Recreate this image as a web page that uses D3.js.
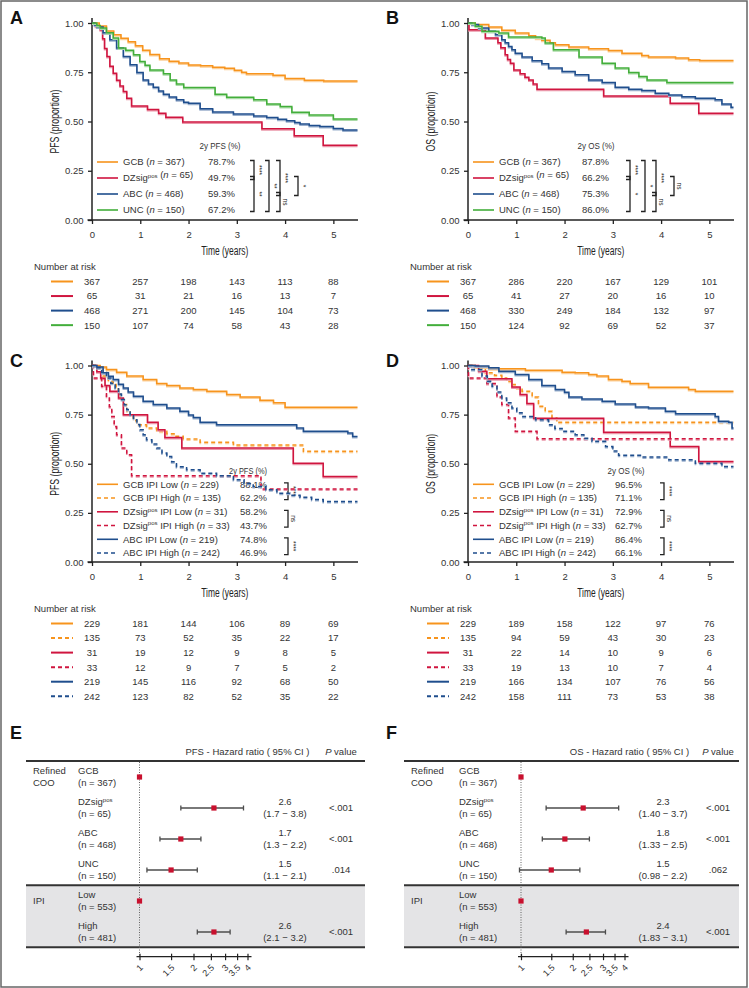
<!DOCTYPE html>
<html><head><meta charset="utf-8">
<script src="https://cdn.jsdelivr.net/npm/d3@7"></script>
<style>
body{margin:0;background:#fff;}
svg text{font-family:"Liberation Sans",Arial,Helvetica,sans-serif;white-space:pre;}
</style></head><body>
<script>
// ---------- shared ticks ----------
const years=[0,1,2,3,4,5];
const yTickVals=[0,0.25,0.5,0.75,1];
const forestTicks=[1,1.5,2,2.5,3,3.5,4];

// ---------- groups / legend ----------
const cooGroups=["GCB","DZsig^pos","ABC","UNC"];
const cooN=[367,65,468,150];
const pfs2yCOO=["78.7%","49.7%","59.3%","67.2%"];
const os2yCOO=["87.8%","66.2%","75.3%","86.0%"];
const ipiGroups=["GCB IPI Low","GCB IPI High","DZsig^pos IPI Low","DZsig^pos IPI High","ABC IPI Low","ABC IPI High"];
const ipiN=[229,135,31,33,219,242];
const pfs2yIPI=["88.1%","62.2%","58.2%","43.7%","74.8%","46.9%"];
const os2yIPI=["96.5%","71.1%","72.9%","62.7%","86.4%","66.1%"];

// ---------- significance brackets [rowA,rowB,label,column] ----------
const bracketsA=[[0,1,"****",0],[1,3,"**",0],[0,3,"**",1],[0,2,"****",2],[2,3,"ns",2],[1,2,"*",3]];
const bracketsB=[[0,1,"****",0],[1,3,"*",0],[0,3,"*",1],[0,2,"****",2],[2,3,"ns",2],[1,2,"ns",3]];
const bracketsC=[[0,1,"****",0],[2,3,"ns",0],[4,5,"****",0]];
const bracketsD=[[0,1,"****",0],[2,3,"ns",0],[4,5,"****",0]];

// ---------- number at risk ----------
const riskA=[[367,257,198,143,113,88],[65,31,21,16,13,7],[468,271,200,145,104,73],[150,107,74,58,43,28]];
const riskB=[[367,286,220,167,129,101],[65,41,27,20,16,10],[468,330,249,184,132,97],[150,124,92,69,52,37]];
const riskC=[[229,181,144,106,89,69],[135,73,52,35,22,17],[31,19,12,9,8,5],[33,12,9,7,5,2],[219,145,116,92,68,50],[242,123,82,52,35,22]];
const riskD=[[229,189,158,122,97,76],[135,94,59,43,30,23],[31,22,14,10,9,6],[33,19,13,10,7,4],[219,166,134,107,76,56],[242,158,111,73,53,38]];

// ---------- KM curves [time, survival] ----------
const A_GCB=[[0,1],[0.15,0.985],[0.3,0.96],[0.45,0.94],[0.6,0.922],[0.75,0.905],[0.9,0.885],[1.05,0.862],[1.2,0.84],[1.4,0.818],[1.6,0.806],[1.8,0.797],[2.0,0.787],[2.25,0.783],[2.5,0.776],[2.75,0.77],[2.95,0.76],[3.1,0.75],[3.2,0.742],[3.75,0.735],[4.0,0.718],[4.4,0.71],[4.8,0.706],[5.5,0.706]];
const A_DZ=[[0,1],[0.07,0.983],[0.17,0.966],[0.22,0.92],[0.26,0.87],[0.31,0.83],[0.37,0.78],[0.44,0.745],[0.51,0.71],[0.58,0.68],[0.65,0.652],[0.72,0.618],[0.82,0.579],[1.15,0.561],[1.38,0.542],[1.53,0.521],[1.88,0.497],[3.52,0.463],[4.19,0.428],[4.79,0.38],[5.5,0.38]];
const A_ABC=[[0,1],[0.05,0.99],[0.1,0.98],[0.23,0.95],[0.37,0.915],[0.51,0.873],[0.65,0.83],[0.79,0.788],[0.93,0.749],[1.06,0.711],[1.17,0.69],[1.27,0.674],[1.38,0.655],[1.48,0.638],[1.6,0.625],[1.75,0.61],[1.9,0.598],[2.0,0.593],[2.24,0.565],[2.5,0.548],[2.93,0.538],[3.35,0.528],[3.62,0.52],[3.85,0.512],[4.03,0.504],[4.2,0.495],[4.31,0.487],[4.5,0.48],[4.72,0.474],[5.0,0.465],[5.2,0.457],[5.5,0.457]];
const A_UNC=[[0,1],[0.1,0.987],[0.17,0.975],[0.3,0.95],[0.44,0.924],[0.55,0.873],[0.7,0.862],[0.86,0.839],[0.99,0.805],[1.1,0.785],[1.2,0.762],[1.48,0.742],[1.62,0.711],[1.75,0.69],[1.9,0.672],[2.5,0.672],[2.55,0.638],[2.79,0.623],[3.35,0.61],[3.62,0.589],[3.9,0.576],[4.14,0.547],[4.5,0.533],[5.0,0.513],[5.5,0.513]];

const B_GCB=[[0,1],[0.15,0.992],[0.43,0.98],[0.7,0.963],[0.98,0.949],[1.26,0.935],[1.4,0.922],[1.53,0.912],[1.7,0.9],[1.81,0.89],[2.09,0.878],[2.5,0.869],[2.91,0.861],[3.19,0.847],[3.6,0.835],[3.74,0.827],[4.3,0.822],[4.57,0.813],[4.8,0.81],[5.5,0.81]];
const B_DZ=[[0,1],[0.02,0.966],[0.36,0.924],[0.62,0.9],[0.68,0.875],[0.77,0.839],[0.82,0.815],[0.88,0.796],[0.95,0.762],[1.08,0.742],[1.18,0.725],[1.26,0.711],[1.35,0.69],[1.43,0.664],[2.81,0.63],[4.19,0.593],[4.78,0.542],[5.5,0.542]];
const B_ABC=[[0,1],[0.08,0.992],[0.22,0.975],[0.43,0.958],[0.57,0.94],[0.7,0.915],[0.77,0.9],[0.84,0.881],[0.91,0.864],[0.98,0.847],[1.12,0.827],[1.33,0.808],[1.53,0.793],[1.67,0.771],[1.95,0.754],[2.22,0.737],[2.5,0.711],[2.78,0.698],[3.05,0.674],[3.33,0.664],[3.6,0.657],[3.88,0.643],[4.16,0.635],[4.43,0.626],[4.71,0.618],[5.12,0.61],[5.26,0.589],[5.45,0.572],[5.5,0.572]];
const B_UNC=[[0,1],[0.15,0.983],[0.29,0.958],[0.64,0.949],[0.84,0.929],[1.53,0.924],[1.6,0.898],[1.77,0.864],[2.3,0.827],[2.78,0.796],[3.05,0.771],[3.33,0.749],[3.54,0.728],[3.71,0.711],[4.12,0.698],[5.5,0.698]];

const C_GCB_L=[[0,1],[0.17,0.993],[0.3,0.98],[0.51,0.966],[0.72,0.946],[1.06,0.929],[1.34,0.908],[1.55,0.898],[1.82,0.886],[2.1,0.878],[2.38,0.869],[2.79,0.852],[3.07,0.84],[3.48,0.823],[3.76,0.81],[4.0,0.787],[5.5,0.787]];
const C_GCB_H=[[0,1],[0.1,0.988],[0.23,0.946],[0.34,0.92],[0.44,0.903],[0.5,0.88],[0.55,0.852],[0.6,0.83],[0.65,0.801],[0.72,0.77],[0.79,0.741],[0.86,0.72],[0.93,0.699],[1.13,0.682],[1.34,0.665],[1.55,0.653],[1.7,0.64],[1.89,0.626],[2.24,0.609],[2.93,0.595],[4.38,0.563],[5.5,0.563]];
const C_DZ_L=[[0,1],[0.1,0.968],[0.18,0.935],[0.27,0.898],[0.37,0.869],[0.55,0.835],[0.65,0.75],[1.15,0.711],[1.37,0.673],[1.51,0.634],[1.86,0.58],[4.17,0.503],[4.79,0.435],[5.5,0.435]];
const C_DZ_H=[[0,1],[0.03,0.937],[0.2,0.895],[0.3,0.835],[0.36,0.79],[0.41,0.741],[0.46,0.69],[0.51,0.648],[0.61,0.58],[0.72,0.546],[0.82,0.439],[3.5,0.372],[5.5,0.372]];
const C_ABC_L=[[0,1],[0.1,0.993],[0.23,0.963],[0.34,0.945],[0.44,0.929],[0.55,0.905],[0.65,0.886],[0.75,0.865],[0.86,0.844],[1.06,0.818],[1.27,0.801],[1.55,0.784],[1.82,0.767],[2.0,0.748],[2.1,0.735],[2.24,0.711],[2.58,0.699],[4.24,0.682],[4.38,0.665],[5.3,0.656],[5.4,0.639],[5.5,0.639]];
const C_ABC_H=[[0,1],[0.1,0.988],[0.2,0.965],[0.3,0.937],[0.39,0.91],[0.48,0.886],[0.55,0.855],[0.61,0.827],[0.67,0.8],[0.72,0.776],[0.79,0.75],[0.86,0.724],[0.93,0.7],[0.99,0.673],[1.06,0.648],[1.13,0.622],[1.24,0.6],[1.34,0.58],[1.45,0.555],[1.55,0.537],[1.65,0.51],[1.75,0.485],[1.96,0.469],[2.24,0.452],[2.58,0.439],[2.93,0.418],[3.15,0.4],[3.34,0.384],[3.6,0.368],[3.83,0.35],[4.1,0.34],[4.31,0.33],[4.55,0.318],[4.79,0.308],[5.5,0.308]];

const D_GCB_L=[[0,1],[0.15,0.993],[0.43,0.983],[1.19,0.976],[1.95,0.966],[2.22,0.963],[2.5,0.954],[2.67,0.946],[2.91,0.929],[3.19,0.92],[3.36,0.908],[3.74,0.889],[4.57,0.878],[4.71,0.869],[5.5,0.869]];
const D_GCB_H=[[0,1],[0.08,0.993],[0.22,0.978],[0.36,0.963],[0.55,0.95],[0.7,0.937],[0.8,0.92],[0.91,0.903],[1.01,0.886],[1.12,0.869],[1.33,0.84],[1.46,0.793],[1.6,0.767],[1.74,0.733],[1.84,0.711],[5.5,0.711]];
const D_DZ_L=[[0,1],[0.22,0.971],[0.39,0.932],[0.91,0.891],[1.08,0.852],[1.22,0.806],[1.36,0.731],[2.81,0.66],[4.19,0.588],[4.78,0.512],[5.5,0.512]];
const D_DZ_H=[[0,1],[0.01,0.937],[0.39,0.908],[0.6,0.84],[0.7,0.801],[0.84,0.733],[0.98,0.665],[1.43,0.627],[5.5,0.627]];
const D_ABC_L=[[0,1],[0.15,0.997],[0.43,0.988],[0.64,0.971],[0.98,0.954],[1.26,0.929],[1.53,0.898],[1.81,0.878],[2.0,0.864],[2.09,0.84],[2.36,0.83],[2.78,0.818],[3.05,0.804],[3.47,0.789],[3.74,0.784],[4.09,0.767],[4.3,0.755],[5.12,0.741],[5.19,0.716],[5.4,0.711],[5.47,0.682],[5.5,0.682]];
const D_ABC_H=[[0,1],[0.08,0.98],[0.29,0.946],[0.4,0.92],[0.5,0.895],[0.6,0.865],[0.7,0.835],[0.8,0.81],[0.91,0.784],[1.01,0.76],[1.12,0.741],[1.4,0.724],[1.67,0.699],[1.8,0.68],[1.95,0.665],[2.22,0.648],[2.4,0.63],[2.57,0.614],[2.85,0.588],[3.0,0.565],[3.12,0.543],[3.6,0.534],[4.16,0.52],[4.71,0.503],[5.26,0.486],[5.5,0.486]];

// ---------- forest plots ----------
const forestRows=["GCB","DZsig^pos","ABC","UNC","Low","High"];
const forestN=[367,65,468,150,553,481];
const pfsHR=[1,2.6,1.7,1.5,1,2.6];
const pfsLo=[null,1.7,1.3,1.1,null,2.1];
const pfsHi=[null,3.8,2.2,2.1,null,3.2];
const pfsCI=["","(1.7 \u2212 3.8)","(1.3 \u2212 2.2)","(1.1 \u2212 2.1)","","(2.1 \u2212 3.2)"];
const pfsP=["","<.001","<.001",".014","","<.001"];
const osHR=[1,2.3,1.8,1.5,1,2.4];
const osLo=[null,1.40,1.33,0.98,null,1.83];
const osHi=[null,3.7,2.5,2.2,null,3.1];
const osCI=["","(1.40 \u2212 3.7)","(1.33 \u2212 2.5)","(0.98 \u2212 2.2)","","(1.83 \u2212 3.1)"];
const osP=["","<.001","<.001",".062","","<.001"];

// ---------- styling ----------
const ORANGE="#f7941d", RED="#d0153f", BLUE="#1f4e8d", GREEN="#43ae3b";
const TXT="#333";
const stylesCOO=[{c:ORANGE},{c:RED},{c:BLUE},{c:GREEN}];
const stylesIPI=[{c:ORANGE},{c:ORANGE,dash:"4,3"},{c:RED},{c:RED,dash:"4,3"},{c:BLUE},{c:BLUE,dash:"4,3"}];

const svg=d3.select("body").append("svg").attr("width",749).attr("height",988);
svg.append("rect").attr("x",1).attr("y",1).attr("width",746).attr("height",986)
  .attr("fill","#fff").attr("stroke","#666").attr("stroke-width",1.5);

function rich(t,name,n,italicN){
  const parts=name.split("^pos");
  t.append("tspan").text(parts[0]);
  if(parts.length>1){
    t.append("tspan").attr("dy",-3.5).attr("font-size",6).text("pos");
    t.append("tspan").attr("dy",3.5).text(parts[1]);
  }
  if(n!=null){
    t.append("tspan").text(" (");
    t.append("tspan").attr("font-style",italicN?"italic":"normal").text("n");
    t.append("tspan").text(" = "+n+")");
  }
}

function km(cfg){
  const g=svg.append("g");
  const x=d3.scaleLinear().domain([0,5.5]).range([cfg.x0,cfg.x0+265.5]);
  const y=d3.scaleLinear().domain([0,1]).range([cfg.y0,cfg.y0-cfg.h]);
  g.append("text").attr("x",cfg.lx).attr("y",cfg.ly).attr("font-size",18).attr("font-weight","bold").attr("fill","#111").text(cfg.letter);

  // axes
  const ya=g.append("g").attr("transform",`translate(${cfg.x0},0)`)
    .call(d3.axisLeft(y).tickValues(yTickVals).tickFormat(d3.format(".2f")).tickSize(4).tickSizeOuter(0));
  ya.select(".domain").remove();
  ya.selectAll("line").attr("stroke","#222").attr("stroke-width",1.3);
  ya.selectAll("text").attr("x",-8.5).attr("font-size",9.5).attr("fill",TXT);
  const xa=g.append("g").attr("transform",`translate(0,${cfg.y0})`)
    .call(d3.axisBottom(x).tickValues(years).tickFormat(d3.format("d")).tickSize(4).tickSizeOuter(0));
  xa.select(".domain").remove();
  xa.selectAll("line").attr("stroke","#222").attr("stroke-width",1.3);
  xa.selectAll("text").attr("y",11).attr("font-size",9.5).attr("fill",TXT);
  g.append("line").attr("x1",cfg.x0).attr("x2",cfg.x0).attr("y1",y(1.025)).attr("y2",y(0)+0.7).attr("stroke","#222").attr("stroke-width",1.5);
  g.append("line").attr("x1",cfg.x0-4.5).attr("x2",x(5.5)+0.5).attr("y1",cfg.y0).attr("y2",cfg.y0).attr("stroke","#222").attr("stroke-width",1.5);

  g.append("text").attr("transform",`translate(${cfg.x0-33},${y(0.5)}) rotate(-90)`).attr("text-anchor","middle")
    .attr("font-size",12).attr("fill","#222").attr("textLength",cfg.ylabLen).attr("lengthAdjust","spacingAndGlyphs").text(cfg.ylab);
  g.append("text").attr("x",x(2.75)).attr("y",cfg.y0+35).attr("text-anchor","middle")
    .attr("font-size",12).attr("fill","#222").attr("textLength",47).attr("lengthAdjust","spacingAndGlyphs").text("Time (years)");

  // legend
  const rowY=cfg.names.map((d,i)=>cfg.y0+cfg.legTop+cfg.legStep*i);
  g.append("text").attr("x",cfg.x0+cfg.hdrX).attr("y",cfg.y0+cfg.legTop-cfg.legStep+3.3).attr("text-anchor","middle")
    .attr("font-size",9.5).attr("fill",TXT).attr("textLength",cfg.hdrLen).attr("lengthAdjust","spacingAndGlyphs").text(cfg.hdr);
  cfg.names.forEach((nm,i)=>{
    const st=cfg.styles[i];
    g.append("line").attr("x1",cfg.x0+5).attr("x2",cfg.x0+26).attr("y1",rowY[i]).attr("y2",rowY[i])
      .attr("stroke",st.c).attr("stroke-width",1.6).attr("stroke-dasharray",st.dash||null);
    const t=g.append("text").attr("x",cfg.x0+31).attr("y",rowY[i]+3.4).attr("font-size",9.5).attr("fill",TXT);
    rich(t,nm,cfg.ns[i],true);
    g.append("text").attr("x",cfg.x0+cfg.pctX).attr("y",rowY[i]+3.4).attr("font-size",9.5).attr("fill",TXT).text(cfg.pcts[i]);
  });
  // brackets
  cfg.brackets.forEach(b=>{
    const xv=cfg.x0+cfg.bcols[b[3]];
    const yt=rowY[b[0]]-1.5, yb=rowY[b[1]]+1.5;
    g.append("path").attr("d",`M${xv-4},${yt}H${xv}V${yb}H${xv-4}`).attr("fill","none").attr("stroke","#222").attr("stroke-width",1.3);
    g.append("text").attr("transform",`translate(${xv+2.5},${(yt+yb)/2}) rotate(90)`).attr("text-anchor","middle")
      .attr("font-size",6.5).attr("fill","#222").text(b[2]);
  });

  // curves
  const line=d3.line().x(d=>x(d[0])).y(d=>y(d[1])).curve(d3.curveStepAfter);
  cfg.curves.forEach((c,i)=>{
    const st=cfg.styles[i];
    g.append("path").datum(c).attr("d",line).attr("fill","none").attr("transform","translate(0,1.2)")
      .attr("stroke",d3.interpolateRgb(st.c,"#fff")(0.55)).attr("stroke-width",1.6).attr("stroke-dasharray",st.dash||null);
    g.append("path").datum(c).attr("d",line).attr("fill","none")
      .attr("stroke",st.c).attr("stroke-width",1.5).attr("stroke-dasharray",st.dash||null);
  });

  // risk table
  g.append("text").attr("x",cfg.x0-58).attr("y",cfg.y0+50.3).attr("font-size",9.5).attr("fill",TXT).text("Number at risk");
  cfg.risk.forEach((r,i)=>{
    const ry=cfg.y0+61.5+14.55*i, st=cfg.styles[i];
    g.append("line").attr("x1",cfg.x0-41).attr("x2",cfg.x0-19).attr("y1",ry).attr("y2",ry)
      .attr("stroke",st.c).attr("stroke-width",2).attr("stroke-dasharray",st.dash||null);
    g.selectAll(null).data(r).enter().append("text").attr("x",(d,j)=>x(years[j])).attr("y",ry+3.4)
      .attr("text-anchor","middle").attr("font-size",9.5).attr("fill",TXT).text(d=>d);
  });
}

const cooCols=[162,177,188,206], ipiCols=[196];
km({letter:"A",lx:10,ly:24,x0:92,y0:220,h:197,ylab:"PFS (proportion)",ylabLen:64,names:cooGroups,ns:cooN,pcts:pfs2yCOO,
  styles:stylesCOO,curves:[A_GCB,A_DZ,A_ABC,A_UNC],legTop:-58,legStep:16,hdr:"2y PFS (%)",hdrX:128,hdrLen:41,pctX:116,
  brackets:bracketsA,bcols:cooCols,risk:riskA});
km({letter:"B",lx:386,ly:24,x0:468,y0:220,h:197,ylab:"OS (proportion)",ylabLen:60,names:cooGroups,ns:cooN,pcts:os2yCOO,
  styles:stylesCOO,curves:[B_GCB,B_DZ,B_ABC,B_UNC],legTop:-58,legStep:16,hdr:"2y OS (%)",hdrX:128,hdrLen:37,pctX:114,
  brackets:bracketsB,bcols:cooCols,risk:riskB});
km({letter:"C",lx:10,ly:367,x0:92,y0:562,h:196.5,ylab:"PFS (proportion)",ylabLen:64,names:ipiGroups,ns:ipiN,pcts:pfs2yIPI,
  styles:stylesIPI,curves:[C_GCB_L,C_GCB_H,C_DZ_L,C_DZ_H,C_ABC_L,C_ABC_H],legTop:-77.7,legStep:13.75,hdr:"2y PFS (%)",hdrX:156,hdrLen:38,pctX:148,
  brackets:bracketsC,bcols:ipiCols,risk:riskC});
km({letter:"D",lx:386,ly:367,x0:468,y0:562,h:196.5,ylab:"OS (proportion)",ylabLen:60,names:ipiGroups,ns:ipiN,pcts:os2yIPI,
  styles:stylesIPI,curves:[D_GCB_L,D_GCB_H,D_DZ_L,D_DZ_H,D_ABC_L,D_ABC_H],legTop:-77.7,legStep:13.75,hdr:"2y OS (%)",hdrX:158,hdrLen:37,pctX:147,
  brackets:bracketsD,bcols:ipiCols,risk:riskD});

// ---------- forest ----------
function forest(cfg){
  const g=svg.append("g");
  const xs=d3.scaleLog().domain([1,4]).range([cfg.ref,cfg.ref+cfg.w]);
  const rowC=[777,808,839,870,901,932];
  g.append("text").attr("x",cfg.lx).attr("y",739).attr("font-size",18).attr("font-weight","bold").attr("fill","#111").text(cfg.letter);
  g.append("text").attr("x",cfg.hdrX).attr("y",755).attr("text-anchor","middle").attr("font-size",9.5).attr("fill",TXT).text(cfg.hdr);
  const pv=g.append("text").attr("x",cfg.pX).attr("y",755).attr("text-anchor","middle").attr("font-size",9.5).attr("fill",TXT);
  pv.append("tspan").attr("font-style","italic").text("P");
  pv.append("tspan").text(" value");
  g.append("rect").attr("x",cfg.x1).attr("y",885.3).attr("width",cfg.x2-cfg.x1).attr("height",62).attr("fill","#e4e4e6");
  [761,885.3,947.3].forEach(yy=>g.append("line").attr("x1",cfg.x1).attr("x2",cfg.x2).attr("y1",yy).attr("y2",yy).attr("stroke","#333").attr("stroke-width",2));
  g.append("line").attr("x1",cfg.ref).attr("x2",cfg.ref).attr("y1",762).attr("y2",956).attr("stroke","#555").attr("stroke-width",0.9).attr("stroke-dasharray","1,1.5");

  g.append("text").attr("x",cfg.gX).attr("y",774.3).attr("font-size",9.5).attr("fill",TXT).text("Refined");
  g.append("text").attr("x",cfg.gX).attr("y",785.8).attr("font-size",9.5).attr("fill",TXT).text("COO");
  g.append("text").attr("x",cfg.gX).attr("y",904.3).attr("font-size",9.5).attr("fill",TXT).text("IPI");

  forestRows.forEach((nm,i)=>{
    const cy=rowC[i];
    rich(g.append("text").attr("x",cfg.rX).attr("y",cy-2.7).attr("font-size",9.5).attr("fill",TXT),nm,null);
    g.append("text").attr("x",cfg.rX).attr("y",cy+8.8).attr("font-size",9.5).attr("fill",TXT).text(`(n = ${forestN[i]})`);
    if(cfg.lo[i]!=null){
      g.append("path").attr("d",`M${xs(cfg.lo[i])},${cy-2.5}V${cy+2.5}M${xs(cfg.lo[i])},${cy}H${xs(cfg.hi[i])}M${xs(cfg.hi[i])},${cy-2.5}V${cy+2.5}`)
        .attr("fill","none").attr("stroke","#4d4d4d").attr("stroke-width",1.3);
      g.append("text").attr("x",cfg.hrX).attr("y",cy-2.7).attr("text-anchor","middle").attr("font-size",9.5).attr("fill",TXT).text(d3.format(".1f")(cfg.hr[i]));
      g.append("text").attr("x",cfg.hrX).attr("y",cy+8.8).attr("text-anchor","middle").attr("font-size",9.5).attr("fill",TXT).text(cfg.ci[i]);
      g.append("text").attr("x",cfg.pX).attr("y",cy+3.3).attr("text-anchor","middle").attr("font-size",9.5).attr("fill",TXT).text(cfg.p[i]);
    }
    g.append("rect").attr("x",xs(cfg.hr[i])-2.6).attr("y",cy-2.6).attr("width",5.2).attr("height",5.2).attr("fill","#c8102e");
  });

  const ax=g.append("g").attr("transform","translate(0,956.7)")
    .call(d3.axisBottom(xs).tickValues(forestTicks).tickFormat(d=>String(d)).tickSize(4).tickSizeOuter(0));
  ax.select(".domain").remove();
  ax.selectAll(".tick line").attr("y1",-3).attr("y2",3.5).attr("stroke","#222").attr("stroke-width",1.2);
  ax.selectAll("text").attr("x",0).attr("y",0).attr("dy",null).attr("text-anchor","end")
    .attr("transform","translate(3.5,11.5) rotate(-45)").attr("font-size",9).attr("fill",TXT);
  g.append("line").attr("x1",cfg.ref-3).attr("x2",cfg.ref+cfg.w+4).attr("y1",956.7).attr("y2",956.7).attr("stroke","#222").attr("stroke-width",1.3);
}
forest({letter:"E",lx:10,x1:26,x2:365,ref:139.5,w:108,gX:33,rX:78,hrX:285,pX:341,hdrX:247.5,hdr:"PFS - Hazard ratio ( 95% CI )",
  hr:pfsHR,lo:pfsLo,hi:pfsHi,ci:pfsCI,p:pfsP});
forest({letter:"F",lx:386,x1:404,x2:739,ref:521,w:103.5,gX:411,rX:459,hrX:663,pX:718,hdrX:629.5,hdr:"OS - Hazard ratio ( 95% CI )",
  hr:osHR,lo:osLo,hi:osHi,ci:osCI,p:osP});
</script>
</body></html>
